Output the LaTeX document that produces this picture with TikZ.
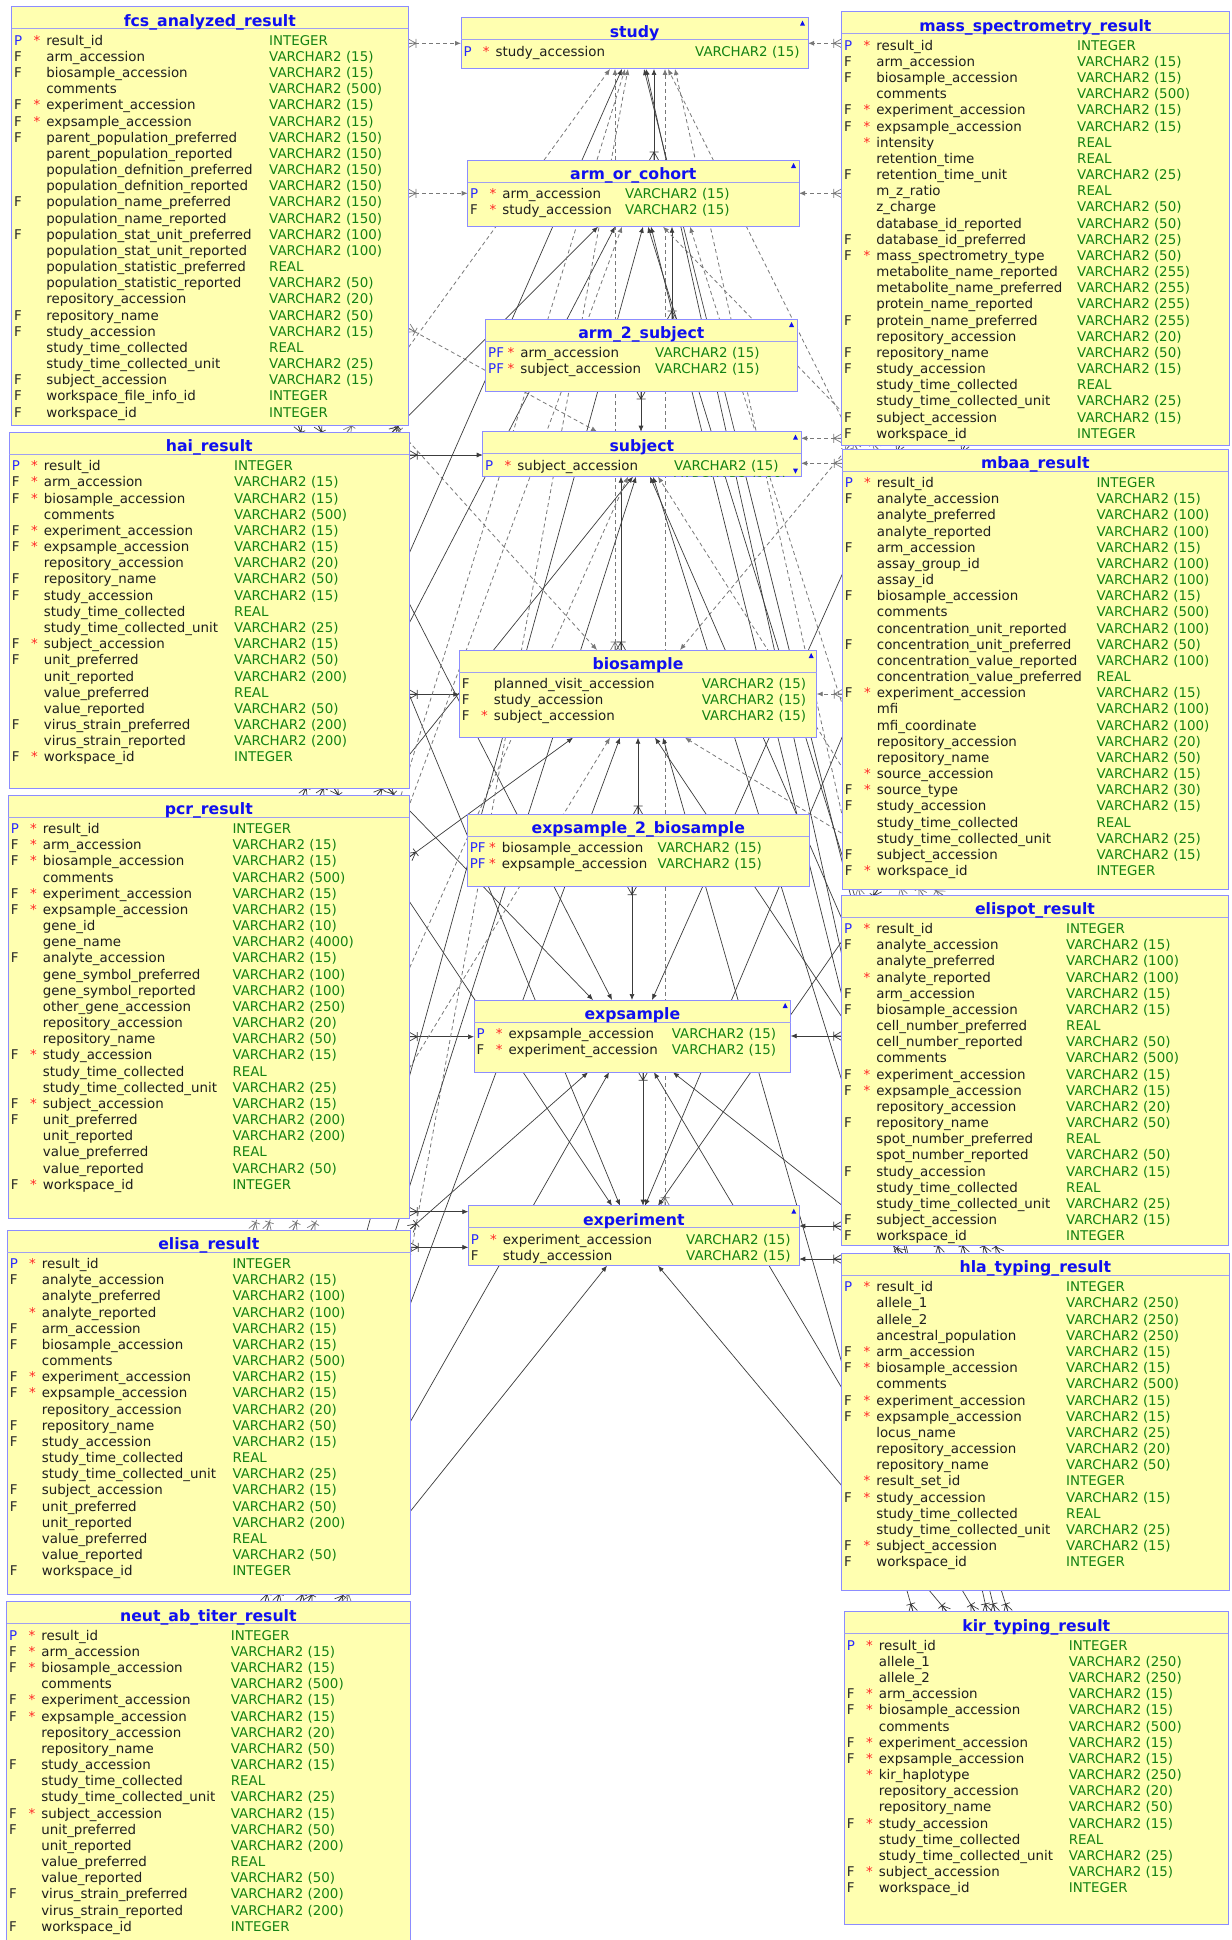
\documentclass[tikz,border=0pt]{standalone}
\usepackage{fontspec}
\setmainfont{DejaVu Sans}
\usetikzlibrary{arrows.meta,calc,decorations.markings}
\definecolor{fillc}{RGB}{255,255,176}
\definecolor{borderc}{RGB}{140,140,255}
\definecolor{hdrc}{RGB}{160,160,240}
\definecolor{ttlc}{RGB}{16,16,240}
\definecolor{keyb}{RGB}{40,40,255}
\definecolor{keyd}{RGB}{40,40,40}
\definecolor{namec}{RGB}{30,30,30}
\definecolor{typec}{RGB}{20,130,20}
\definecolor{starc}{RGB}{255,40,40}
\definecolor{solidc}{RGB}{60,60,60}
\definecolor{dashc}{RGB}{120,120,120}
\expandafter\def\csname ktP\endcsname{\textcolor{keyb}{P}}
\expandafter\def\csname ktF\endcsname{\textcolor{keyd}{F}}
\expandafter\def\csname ktPF\endcsname{\textcolor{keyb}{PF}}
\expandafter\def\csname kt-\endcsname{}
\expandafter\def\csname st*\endcsname{\textcolor{starc}{*}}
\expandafter\def\csname st-\endcsname{}
\expandafter\def\csname tyI\endcsname{INTEGER}
\expandafter\def\csname tyR\endcsname{REAL}
\tikzset{
 tbl/.style={draw=borderc, fill=fillc, line width=1pt, inner sep=0pt, outer sep=0pt, rectangle},
 hdrln/.style={draw=hdrc, line width=1pt},
 ttl/.style={anchor=base, inner sep=0pt, text=ttlc, font=\fontsize{15.7}{18}\selectfont\bfseries},
 rowt/.style={anchor=base west, inner sep=0pt, font=\fontsize{13.4}{16}\selectfont},
 crowend/.style={-{Latex[length=6pt,width=5pt]}, postaction={decorate},
   decoration={markings, mark=at position 0 with {\draw[solid,-,line width=0.7pt] (0pt,4.5pt)--(8pt,0pt)--(0pt,-4.5pt) (8pt,4.5pt)--(8pt,-4.5pt) (0pt,0pt)--(8pt,0pt);}}},
 fks/.style={draw=solidc, line width=0.7pt, crowend},
 fkd/.style={draw=dashc, line width=0.8pt, dash pattern=on 4pt off 3pt, crowend},
}
\newcommand\erbox[8]{%
 \node[tbl, minimum width=#4pt, minimum height=#5pt, anchor=north west] (#1) at (#2,#3) {};
 \draw[hdrln] ($(#1.north west)+(0,22)$) -- ($(#1.north east)+(0,22)$);
 \node[ttl] (#1-ttl) at ($(#1.north)+(0,19.4)$) {#6};
 \foreach \kA/\sA/\nA/\tA [count=\i] in {#8}{%
   \pgfmathsetmacro\yy{#3+38.5+16.17*(\i-1)}
   \node[rowt] (#1-k\i) at (#2+2.3,\yy) {\csname kt\kA\endcsname};
   \node[rowt] (#1-s\i) at (#2+21.7,\yy) {\csname st\sA\endcsname};
   \node[rowt, text=namec] (#1-n\i) at (#2+34.4,\yy) {\nA};
   \node[rowt, text=typec] (#1-y\i) at (#2+#7,\yy) {\ifcsname ty\tA\endcsname\csname ty\tA\endcsname\else VARCHAR2 (\tA)\fi};
 }%
}
\newcommand\upmark[1]{\fill[ttlc] ($(#1.north east)+(-8,8)$) -- ++(5,0) -- ++(-2.5,-5) -- cycle;}
\newcommand\fk[3]{\draw[#1] #2 -- #3;}
\begin{document}
\catcode`\_=12
\begin{tikzpicture}[x=1pt,y=-1pt]
\useasboundingbox (0,0) rectangle (1231,1940);
\fill[white] (0,0) rectangle (1231,1940);
% ---------- invisible placement of boxes first (for names) ----------
\begin{scope}[opacity=0]
\node[tbl, minimum width=396.3pt, minimum height=418.3pt, anchor=north west] (fcs) at (11.7,6.7) {};
\node[tbl, minimum width=347pt, minimum height=51.3pt, anchor=north west] (study) at (461,17.7) {};
\node[tbl, minimum width=387.3pt, minimum height=433.3pt, anchor=north west] (mass) at (841.7,11.7) {};
\node[tbl, minimum width=331.3pt, minimum height=66.7pt, anchor=north west] (aoc) at (467.7,160) {};
\node[tbl, minimum width=311.3pt, minimum height=72pt, anchor=north west] (a2s) at (485.7,319) {};
\node[tbl, minimum width=318.3pt, minimum height=45pt, anchor=north west] (subject) at (482.7,431.7) {};
\node[tbl, minimum width=400pt, minimum height=356pt, anchor=north west] (hai) at (9.3,432.3) {};
\node[tbl, minimum width=386pt, minimum height=440.3pt, anchor=north west] (mbaa) at (842.3,449) {};
\node[tbl, minimum width=357.4pt, minimum height=87.7pt, anchor=north west] (biosample) at (459.3,650) {};
\node[tbl, minimum width=401pt, minimum height=423.3pt, anchor=north west] (pcr) at (8.3,795) {};
\node[tbl, minimum width=342pt, minimum height=72.7pt, anchor=north west] (e2b) at (467.3,814) {};
\node[tbl, minimum width=386.6pt, minimum height=350.7pt, anchor=north west] (elispot) at (841.7,895) {};
\node[tbl, minimum width=316.7pt, minimum height=72.3pt, anchor=north west] (expsample) at (474,1000) {};
\node[tbl, minimum width=331pt, minimum height=60pt, anchor=north west] (experiment) at (468.3,1205.7) {};
\node[tbl, minimum width=403pt, minimum height=364pt, anchor=north west] (elisa) at (7.3,1230) {};
\node[tbl, minimum width=387.3pt, minimum height=336.7pt, anchor=north west] (hla) at (841.7,1253.3) {};
\node[tbl, minimum width=403.3pt, minimum height=360pt, anchor=north west] (neut) at (6.7,1601.7) {};
\node[tbl, minimum width=384pt, minimum height=312.3pt, anchor=north west] (kir) at (844.3,1611.7) {};
\end{scope}
% ---------- connectors ----------
\fk{fks}{(aoc.north -| 654,0)}{(study.south -| 654,0)}
\fk{fks}{(a2s.north -| 672,0)}{(aoc.south -| 672,0)}
\fk{fks}{(a2s.south -| 641,0)}{(subject.north -| 641,0)}
\fk{fks}{(biosample.north -| 621,0)}{(subject.south -| 621,0)}
\fk{fkd}{(biosample.north -| 615,0)}{(study.south -| 615,0)}
\fk{fks}{(e2b.north -| 638,0)}{(biosample.south -| 638,0)}
\fk{fks}{(e2b.south -| 632,0)}{(expsample.north -| 632,0)}
\fk{fks}{(expsample.south -| 643,0)}{(experiment.north -| 643,0)}
\fk{fkd}{(experiment.north -| 665,0)}{(study.south -| 665,0)}
% horizontals
\fk{fkd}{(fcs.east |- 0,43.3)}{(study.west |- 0,43.3)}
\fk{fkd}{(fcs.east |- 0,193.3)}{(aoc.west |- 0,193.3)}
\fk{fkd}{(mass.west |- 0,43.3)}{(study.east |- 0,43.3)}
\fk{fkd}{(mass.west |- 0,193.3)}{(aoc.east |- 0,193.3)}
\fk{fks}{(hai.east |- 0,455)}{(subject.west |- 0,455)}
\fk{fkd}{(mass.west |- 0,438.3)}{(subject.east |- 0,438.3)}
\fk{fkd}{(mbaa.west |- 0,463.3)}{(subject.east |- 0,463.3)}
\fk{fks}{(hai.east |- 0,694.3)}{(biosample.west |- 0,694.3)}
\fk{fkd}{(mbaa.west |- 0,694)}{(biosample.east |- 0,694)}
\fk{fks}{(pcr.east |- 0,1036.7)}{(expsample.west |- 0,1036.7)}
\fk{fks}{(elispot.west |- 0,1036)}{(expsample.east |- 0,1036)}
\fk{fks}{(pcr.east |- 0,1211.7)}{(experiment.west |- 0,1211.7)}
\fk{fks}{(elisa.east |- 0,1247.3)}{(experiment.west |- 0,1247.3)}
\fk{fks}{(elispot.west |- 0,1226)}{(experiment.east |- 0,1226)}
\fk{fks}{(hla.west |- 0,1259)}{(experiment.east |- 0,1259)}
% fcs
\fk{fkd}{(fcs.east |- 0,328)}{(subject.north -| 597,0)}
\fk{fkd}{(fcs.south -| 394,0)}{(biosample.north -| 597,0)}
\fk{fks}{(fcs.south -| 318,0)}{(expsample.north -| 612,0)}
\fk{fks}{(fcs.south -| 298,0)}{(experiment.north -| 620,0)}
% hai
\fk{fks}{(hai.north -| 392,0)}{(aoc.south -| 598,0)}
\fk{fkd}{(hai.north -| 347,0)}{(study.south -| 610,0)}
\fk{fks}{(hai.south -| 388,0)}{(expsample.north -| 593,0)}
\fk{fks}{(hai.south -| 334,0)}{(experiment.north -| 612,0)}
% pcr
\fk{fks}{(pcr.north -| 303,0)}{(study.south -| 622,0)}
\fk{fks}{(pcr.north -| 320,0)}{(aoc.south -| 615,0)}
\fk{fks}{(pcr.north -| 377,0)}{(subject.south -| 633,0)}
\fk{fks}{(pcr.east |- 0,857)}{(biosample.south -| 573,0)}
% elisa
\fk{fkd}{(elisa.north -| 267,0)}{(study.south -| 625,0)}
\fk{fkd}{(elisa.north -| 311,0)}{(biosample.south -| 610,0)}
\fk{fks}{(elisa.east |- 0,1229)}{(expsample.south -| 588,0)}
\fk{fkd}{(elisa.north -| 253,0)}{(aoc.south -| 622,0)}
\fk{fkd}{(elisa.north -| 293,0)}{(subject.south -| 628,0)}
% neut
\fk{fkd}{(neut.north -| 347,0)}{(study.south -| 628,0)}
\fk{fks}{(neut.north -| 300,0)}{(biosample.south -| 620,0)}
\fk{fks}{(neut.north -| 338,0)}{(experiment.south -| 607,0)}
\fk{fks}{(neut.north -| 308,0)}{(expsample.south -| 609,0)}
\fk{fks}{(neut.north -| 265,0)}{(aoc.south -| 643,0)}
\fk{fks}{(neut.north -| 277,0)}{(subject.south -| 636,0)}
% mass
\fk{fkd}{(mass.south -| 850,0)}{(biosample.north -| 680,0)}
\fk{fks}{(mass.south -| 965,0)}{(experiment.north -| 645,0)}
\fk{fks}{(mass.south -| 900,0)}{(expsample.north -| 652,0)}
% mbaa
\fk{fkd}{(mbaa.north -| 857,0)}{(study.south -| 668,0)}
\fk{fkd}{(mbaa.north -| 878,0)}{(aoc.south -| 663,0)}
\fk{fks}{(mbaa.south -| 878,0)}{(experiment.north -| 658,0)}
% elispot
\fk{fkd}{(elispot.north -| 860,0)}{(study.south -| 675,0)}
\fk{fkd}{(elispot.north -| 903,0)}{(aoc.south -| 690,0)}
\fk{fkd}{(elispot.north -| 923,0)}{(subject.south -| 658,0)}
\fk{fkd}{(elispot.north -| 943,0)}{(biosample.south -| 685,0)}
% hla
\fk{fks}{(hla.north -| 940,0)}{(study.south -| 644,0)}
\fk{fks}{(hla.north -| 965,0)}{(aoc.south -| 648,0)}
\fk{fks}{(hla.north -| 987,0)}{(subject.south -| 650,0)}
\fk{fks}{(hla.north -| 1000,0)}{(biosample.south -| 655,0)}
\fk{fks}{(hla.north -| 903,0)}{(expsample.south -| 673,0)}
% kir
\fk{fks}{(kir.north -| 947,0)}{(experiment.south -| 658,0)}
\fk{fks}{(kir.north -| 975,0)}{(expsample.south -| 654,0)}
\fk{fks}{(kir.north -| 987,0)}{(study.south -| 646,0)}
\fk{fks}{(kir.north -| 995,0)}{(aoc.south -| 651,0)}
\fk{fks}{(kir.north -| 1008,0)}{(subject.south -| 653,0)}
\fk{fks}{(kir.north -| 913,0)}{(biosample.south -| 663,0)}
% ---------- tables ----------
\erbox{fcs}{11.7}{6.7}{396.3}{418.3}{fcs_analyzed_result}{257.3}{P/*/result_id/I,
F/-/arm_accession/15,
F/-/biosample_accession/15,
-/-/comments/500,
F/*/experiment_accession/15,
F/*/expsample_accession/15,
F/-/parent_population_preferred/150,
-/-/parent_population_reported/150,
-/-/population_defnition_preferred/150,
-/-/population_defnition_reported/150,
F/-/population_name_preferred/150,
-/-/population_name_reported/150,
F/-/population_stat_unit_preferred/100,
-/-/population_stat_unit_reported/100,
-/-/population_statistic_preferred/R,
-/-/population_statistic_reported/50,
-/-/repository_accession/20,
F/-/repository_name/50,
F/-/study_accession/15,
-/-/study_time_collected/R,
-/-/study_time_collected_unit/25,
F/-/subject_accession/15,
F/-/workspace_file_info_id/I,
F/-/workspace_id/I}
\erbox{study}{461}{17.7}{347}{51.3}{study}{234}{P/*/study_accession/15}
\erbox{mass}{841.7}{11.7}{387.3}{433.3}{mass_spectrometry_result}{235.3}{P/*/result_id/I,
F/-/arm_accession/15,
F/-/biosample_accession/15,
-/-/comments/500,
F/*/experiment_accession/15,
F/*/expsample_accession/15,
-/*/intensity/R,
-/-/retention_time/R,
F/-/retention_time_unit/25,
-/-/m_z_ratio/R,
-/-/z_charge/50,
-/-/database_id_reported/50,
F/-/database_id_preferred/25,
F/*/mass_spectrometry_type/50,
-/-/metabolite_name_reported/255,
-/-/metabolite_name_preferred/255,
-/-/protein_name_reported/255,
F/-/protein_name_preferred/255,
-/-/repository_accession/20,
F/-/repository_name/50,
F/-/study_accession/15,
-/-/study_time_collected/R,
-/-/study_time_collected_unit/25,
F/-/subject_accession/15,
F/-/workspace_id/I}
\erbox{aoc}{467.7}{160}{331.3}{66.7}{arm_or_cohort}{157.3}{P/*/arm_accession/15,
F/*/study_accession/15}
\erbox{a2s}{485.7}{319}{311.3}{72}{arm_2_subject}{169.3}{PF/*/arm_accession/15,
PF/*/subject_accession/15}
\erbox{subject}{482.7}{431.7}{318.3}{45}{subject}{191.3}{P/*/subject_accession/15}
\begin{scope}
\clip (subject.south west) rectangle (subject.north east);
\node[rowt, text=typec] (subject-y2) at (674,486.4) {VARCHAR2 (100)};
\end{scope}
\erbox{hai}{9.3}{432.3}{400}{356}{hai_result}{224.7}{P/*/result_id/I,
F/*/arm_accession/15,
F/*/biosample_accession/15,
-/-/comments/500,
F/*/experiment_accession/15,
F/*/expsample_accession/15,
-/-/repository_accession/20,
F/-/repository_name/50,
F/-/study_accession/15,
-/-/study_time_collected/R,
-/-/study_time_collected_unit/25,
F/*/subject_accession/15,
F/-/unit_preferred/50,
-/-/unit_reported/200,
-/-/value_preferred/R,
-/-/value_reported/50,
F/-/virus_strain_preferred/200,
-/-/virus_strain_reported/200,
F/*/workspace_id/I}
\erbox{mbaa}{842.3}{449}{386}{440.3}{mbaa_result}{254}{P/*/result_id/I,
F/-/analyte_accession/15,
-/-/analyte_preferred/100,
-/-/analyte_reported/100,
F/-/arm_accession/15,
-/-/assay_group_id/100,
-/-/assay_id/100,
F/-/biosample_accession/15,
-/-/comments/500,
-/-/concentration_unit_reported/100,
F/-/concentration_unit_preferred/50,
-/-/concentration_value_reported/100,
-/-/concentration_value_preferred/R,
F/*/experiment_accession/15,
-/-/mfi/100,
-/-/mfi_coordinate/100,
-/-/repository_accession/20,
-/-/repository_name/50,
-/*/source_accession/15,
F/*/source_type/30,
F/-/study_accession/15,
-/-/study_time_collected/R,
-/-/study_time_collected_unit/25,
F/-/subject_accession/15,
F/*/workspace_id/I}
\erbox{biosample}{459.3}{650}{357.4}{87.7}{biosample}{242.4}{F/-/planned_visit_accession/15,
F/-/study_accession/15,
F/*/subject_accession/15}
\erbox{pcr}{8.3}{795}{401}{423.3}{pcr_result}{224}{P/*/result_id/I,
F/*/arm_accession/15,
F/*/biosample_accession/15,
-/-/comments/500,
F/*/experiment_accession/15,
F/*/expsample_accession/15,
-/-/gene_id/10,
-/-/gene_name/4000,
F/-/analyte_accession/15,
-/-/gene_symbol_preferred/100,
-/-/gene_symbol_reported/100,
-/-/other_gene_accession/250,
-/-/repository_accession/20,
-/-/repository_name/50,
F/*/study_accession/15,
-/-/study_time_collected/R,
-/-/study_time_collected_unit/25,
F/*/subject_accession/15,
F/-/unit_preferred/200,
-/-/unit_reported/200,
-/-/value_preferred/R,
-/-/value_reported/50,
F/*/workspace_id/I}
\erbox{e2b}{467.3}{814}{342}{72.7}{expsample_2_biosample}{190}{PF/*/biosample_accession/15,
PF/*/expsample_accession/15}
\erbox{elispot}{841.7}{895}{386.6}{350.7}{elispot_result}{224.3}{P/*/result_id/I,
F/-/analyte_accession/15,
-/-/analyte_preferred/100,
-/*/analyte_reported/100,
F/-/arm_accession/15,
F/-/biosample_accession/15,
-/-/cell_number_preferred/R,
-/-/cell_number_reported/50,
-/-/comments/500,
F/*/experiment_accession/15,
F/*/expsample_accession/15,
-/-/repository_accession/20,
F/-/repository_name/50,
-/-/spot_number_preferred/R,
-/-/spot_number_reported/50,
F/-/study_accession/15,
-/-/study_time_collected/R,
-/-/study_time_collected_unit/25,
F/-/subject_accession/15,
F/-/workspace_id/I}
\erbox{expsample}{474}{1000}{316.7}{72.3}{expsample}{197.7}{P/*/expsample_accession/15,
F/*/experiment_accession/15}
\erbox{experiment}{468.3}{1205.7}{331}{60}{experiment}{217.7}{P/*/experiment_accession/15,
F/-/study_accession/15}
\erbox{elisa}{7.3}{1230}{403}{364}{elisa_result}{225}{P/*/result_id/I,
F/-/analyte_accession/15,
-/-/analyte_preferred/100,
-/*/analyte_reported/100,
F/-/arm_accession/15,
F/-/biosample_accession/15,
-/-/comments/500,
F/*/experiment_accession/15,
F/*/expsample_accession/15,
-/-/repository_accession/20,
F/-/repository_name/50,
F/-/study_accession/15,
-/-/study_time_collected/R,
-/-/study_time_collected_unit/25,
F/-/subject_accession/15,
F/-/unit_preferred/50,
-/-/unit_reported/200,
-/-/value_preferred/R,
-/-/value_reported/50,
F/-/workspace_id/I}
\erbox{hla}{841.7}{1253.3}{387.3}{336.7}{hla_typing_result}{224.3}{P/*/result_id/I,
-/-/allele_1/250,
-/-/allele_2/250,
-/-/ancestral_population/250,
F/*/arm_accession/15,
F/*/biosample_accession/15,
-/-/comments/500,
F/*/experiment_accession/15,
F/*/expsample_accession/15,
-/-/locus_name/25,
-/-/repository_accession/20,
-/-/repository_name/50,
-/*/result_set_id/I,
F/*/study_accession/15,
-/-/study_time_collected/R,
-/-/study_time_collected_unit/25,
F/*/subject_accession/15,
F/-/workspace_id/I}
\erbox{neut}{6.7}{1601.7}{403.3}{360}{neut_ab_titer_result}{224}{P/*/result_id/I,
F/*/arm_accession/15,
F/*/biosample_accession/15,
-/-/comments/500,
F/*/experiment_accession/15,
F/*/expsample_accession/15,
-/-/repository_accession/20,
-/-/repository_name/50,
F/-/study_accession/15,
-/-/study_time_collected/R,
-/-/study_time_collected_unit/25,
F/*/subject_accession/15,
F/-/unit_preferred/50,
-/-/unit_reported/200,
-/-/value_preferred/R,
-/-/value_reported/50,
F/-/virus_strain_preferred/200,
-/-/virus_strain_reported/200,
F/-/workspace_id/I}
\erbox{kir}{844.3}{1611.7}{384}{312.3}{kir_typing_result}{224.4}{P/*/result_id/I,
-/-/allele_1/250,
-/-/allele_2/250,
F/*/arm_accession/15,
F/*/biosample_accession/15,
-/-/comments/500,
F/*/experiment_accession/15,
F/*/expsample_accession/15,
-/*/kir_haplotype/250,
-/-/repository_accession/20,
-/-/repository_name/50,
F/*/study_accession/15,
-/-/study_time_collected/R,
-/-/study_time_collected_unit/25,
F/*/subject_accession/15,
F/-/workspace_id/I}
% corner marks
\upmark{study}
\upmark{aoc}
\upmark{a2s}
\upmark{subject}
\upmark{biosample}
\upmark{expsample}
\upmark{experiment}
\fill[ttlc] ($(subject.south east)+(-8,-8)$) -- ++(5,0) -- ++(-2.5,5) -- cycle;
\end{tikzpicture}
\end{document}
